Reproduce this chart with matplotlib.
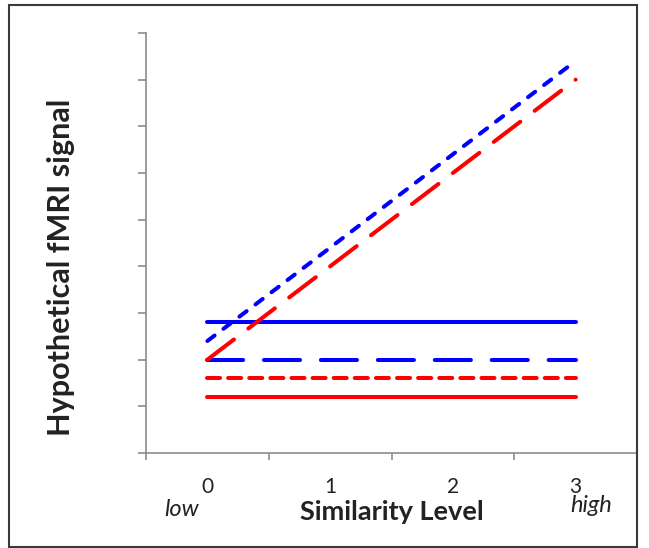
import matplotlib
matplotlib.use("Agg")
import matplotlib.pyplot as plt
from matplotlib.patches import Rectangle

# similarity levels and hypothetical signal for each condition
levels = [0, 1, 2, 3]
blue_rising = [2.4, 4.4, 6.4, 8.4]
red_rising = [2.0, 4.0, 6.0, 8.0]
blue_flat_high = [2.8, 2.8, 2.8, 2.8]
blue_flat_mid = [2.0, 2.0, 2.0, 2.0]
red_flat_mid = [1.6, 1.6, 1.6, 1.6]
red_flat_low = [1.2, 1.2, 1.2, 1.2]

plt.rcParams['font.family'] = ['Lato', 'DejaVu Sans']
plt.rcParams['lines.scale_dashes'] = False

fig = plt.figure(figsize=(6.49, 5.48), dpi=100)
ax = fig.add_axes([0.225, 0.1734, 0.7565, 0.7664])

lw = 2.9
style = dict(lw=lw, solid_capstyle='round', dash_capstyle='round')
ax.plot(levels, red_flat_low, color='#ff0000', **style)
ax.plot(levels, red_flat_mid, color='#ff0000', dashes=(9.4, 5.8), **style)
ax.plot(levels, blue_flat_mid, color='#0000ff', dashes=(26, 15), **style)
ax.plot(levels, blue_flat_high, color='#0000ff', **style)
ax.plot(levels, red_rising, color='#ff0000', dashes=(24, 13), **style)
ax.plot(levels, blue_rising, color='#0000ff', dashes=(6.5, 8), **style)

ax.set_xlim(-0.5, 3.5)
ax.set_ylim(0, 9)

axis_grey = '#8c8c8c'
text_col = '#222222'
for side in ['top', 'right']:
    ax.spines[side].set_visible(False)
for side in ['left', 'bottom']:
    ax.spines[side].set_color(axis_grey)
    ax.spines[side].set_linewidth(1.2)

ax.set_yticks(range(10))
ax.set_yticklabels([])
ax.tick_params(axis='y', length=6, width=1.2, color=axis_grey)

# tick marks sit between categories, labels at the category centres
ax.set_xticks([-0.5, 0.5, 1.5, 2.5, 3.5])
ax.set_xticklabels([])
ax.tick_params(axis='x', which='major', length=5, width=1.2, color=axis_grey)
ax.set_xticks(levels, minor=True)
ax.set_xticklabels([str(v) for v in levels], minor=True)
ax.tick_params(axis='x', which='minor', length=0, pad=17, labelsize=15, labelcolor=text_col)

ax.set_ylabel('Hypothetical fMRI signal', fontsize=22, fontweight='bold', color=text_col)
ax.yaxis.set_label_coords(-0.145, 0.443)
ax.set_xlabel('Similarity Level', fontsize=19.5, fontweight='bold', color=text_col)
ax.xaxis.set_label_coords(0.5, -0.113)

ends = ax.get_xaxis_transform()
ax.text(-0.21, -0.135, 'low', transform=ends, ha='center', va='center',
        fontsize=17, style='italic', color=text_col)
ax.text(3.13, -0.126, 'high', transform=ends, ha='center', va='center',
        fontsize=17, style='italic', color=text_col)

# outer frame around the whole figure
fig.patches.append(Rectangle((9 / 649, 1 / 548), 628 / 649, 542 / 548,
                             transform=fig.transFigure, fill=False,
                             edgecolor='#3a3a3a', lw=1.5))

fig.savefig('out.png', dpi=100)
